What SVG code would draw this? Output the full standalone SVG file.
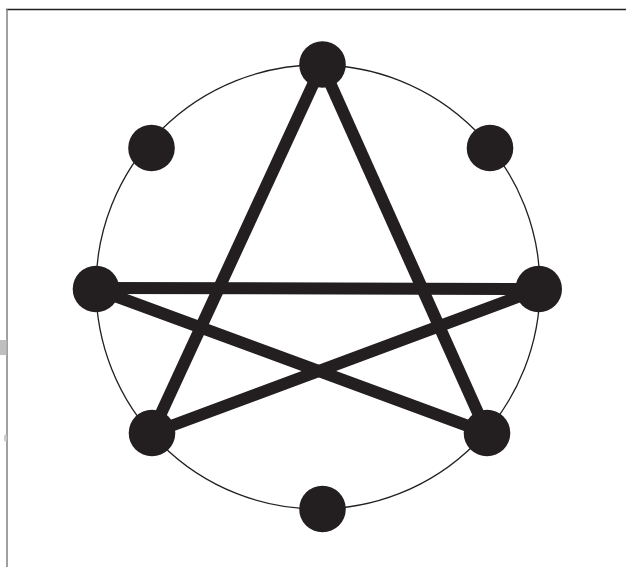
<svg xmlns="http://www.w3.org/2000/svg" width="626" height="567" viewBox="0 0 626 567">
<style>
.edge{stroke:#231f20;stroke-width:12;stroke-linecap:butt;fill:none}
.node{fill:#231f20}
</style>
<rect width="626" height="567" fill="#fff"/>
<line x1="6" y1="9.5" x2="626" y2="9.5" stroke="#231f20" stroke-width="1.5"/>
<line x1="7" y1="9" x2="7" y2="567" stroke="#808080" stroke-width="1.5"/>
<rect x="0" y="340" width="6.5" height="15" fill="#bfbfc1"/>
<ellipse cx="5.5" cy="438" rx="1.5" ry="3.5" fill="#c8c8c8"/>
<circle cx="318" cy="287" r="222" fill="none" stroke="#231f20" stroke-width="1.3"/>
<g id="connectors">
<line class="edge" x1="322" y1="65" x2="152" y2="433"/>
<line class="edge" x1="322" y1="65" x2="487" y2="433"/>
<line class="edge" x1="96" y1="288" x2="539" y2="289"/>
<line class="edge" x1="96" y1="289" x2="487" y2="433"/>
<line class="edge" x1="539" y1="289" x2="152" y2="433"/>
</g>
<g id="n-top"><circle class="node" cx="322.5" cy="64.5" r="23.3"/></g>
<g id="n-upper-left"><circle class="node" cx="151.5" cy="148" r="23.3"/></g>
<g id="n-upper-right"><circle class="node" cx="490" cy="148" r="23.3"/></g>
<g id="n-left"><circle class="node" cx="96" cy="289" r="23.3"/></g>
<g id="n-right"><circle class="node" cx="538.7" cy="289" r="23.3"/></g>
<g id="n-lower-left"><circle class="node" cx="152" cy="433" r="23.3"/></g>
<g id="n-lower-right"><circle class="node" cx="487" cy="433" r="23.3"/></g>
<g id="n-bottom"><circle class="node" cx="322.5" cy="509" r="23.3"/></g>
</svg>
